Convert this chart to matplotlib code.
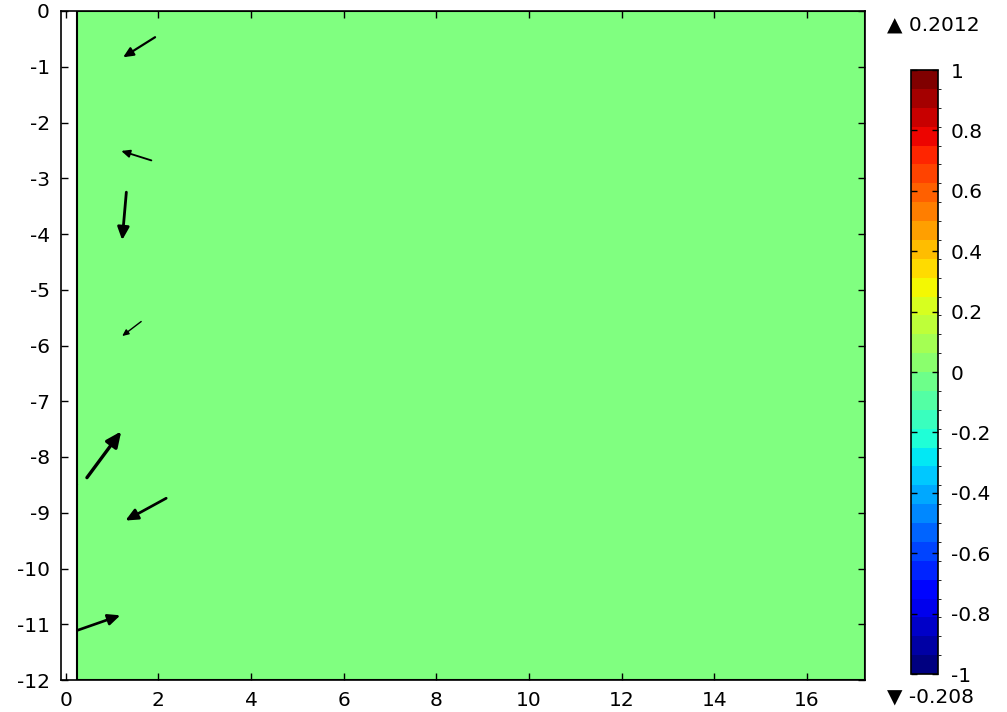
import matplotlib
matplotlib.use("Agg")
import matplotlib.pyplot as plt
import numpy as np
from matplotlib.colors import ListedColormap, BoundaryNorm
from matplotlib.colorbar import ColorbarBase
from matplotlib.patches import Rectangle

plt.rcParams['axes.unicode_minus'] = False
plt.rcParams['font.family'] = 'DejaVu Sans'

# domain / field -------------------------------------------------
dom_x = [0.25, 17.25]
dom_y = [-12, 0]
field_color = '#80ff80'
field_max = 0.2012
field_min = -0.208

# arrows: tails and vector components (data units)
arr_x0 = [1.93, 1.85, 1.31, 1.63, 0.46, 2.17, 0.25, 0.25]
arr_y0 = [-0.47, -2.68, -3.25, -5.57, -8.37, -8.74, -11.11, -8.50]
arr_u = [-0.69, -0.65, -0.09, -0.41, 0.74, -0.88, 0.93, 0.03]
arr_v = [-0.36, 0.17, -0.86, -0.26, 0.83, -0.40, 0.27, 0.01]

# colour bar
cb_min, cb_max = -1, 1
n_levels = 32
cb_ticks = [1, 0.8, 0.6, 0.4, 0.2, 0, -0.2, -0.4, -0.6, -0.8, -1]

xticks = list(range(0, 17, 2))
yticks = list(range(0, -13, -1))

fs = 14.5
W, H = 1007, 712
fig = plt.figure(figsize=(W / 100, H / 100), dpi=100)
ax = fig.add_axes([61 / W, (H - 680) / H, (865 - 61) / W, (680 - 11) / H])
ax.set_xlim(-0.1, 17.25)
ax.set_ylim(-12, 0)

ax.add_patch(Rectangle((dom_x[0], dom_y[0]), dom_x[1] - dom_x[0], dom_y[1] - dom_y[0],
                       facecolor=field_color, edgecolor='black', lw=1.5, zorder=1))

fig.canvas.draw()
for x0, y0, u, v in zip(arr_x0, arr_y0, arr_u, arr_v):
    p0 = ax.transData.transform((x0, y0))
    p1 = ax.transData.transform((x0 + u, y0 + v))
    L = np.hypot(*(p1 - p0))
    lw = max(0.8, 0.042 * L)
    hl = 0.22 * L * 0.72
    ax.annotate('', xy=(x0 + u, y0 + v), xytext=(x0, y0),
                arrowprops=dict(arrowstyle=f'-|>,head_length={hl / 10:.3f},head_width={hl / 22:.3f}',
                                mutation_scale=10, lw=lw, color='black',
                                shrinkA=0, shrinkB=0), zorder=3)

ax.set_xticks(xticks)
ax.set_yticks(yticks)
ax.tick_params(direction='in', top=True, right=True, length=5, width=1,
               labelsize=fs, pad=8)
for s in ax.spines.values():
    s.set_linewidth(1.2)

# colour bar
cax = fig.add_axes([911 / W, (H - 674) / H, (938 - 911) / W, (674 - 70) / H])
cmap = ListedColormap(plt.get_cmap('jet')(np.linspace(0, 1, n_levels)))
bounds = np.linspace(cb_min, cb_max, n_levels + 1)
norm = BoundaryNorm(bounds, cmap.N)
cb = ColorbarBase(cax, cmap=cmap, norm=norm, ticks=cb_ticks, drawedges=False)
cb.ax.set_yticklabels([f'{t:g}' for t in cb_ticks])
cb.ax.tick_params(direction='in', left=True, right=True, length=4, width=1,
                  labelsize=fs, pad=9)
cb.outline.set_linewidth(1.2)

fig.text(887 / W, 1 - 25 / H, f'\u25b2 {field_max}', fontsize=fs, va='center', ha='left')
fig.text(887 / W, 1 - 697 / H, f'\u25bc {field_min}', fontsize=fs, va='center', ha='left')

fig.savefig('out.png', dpi=100)
